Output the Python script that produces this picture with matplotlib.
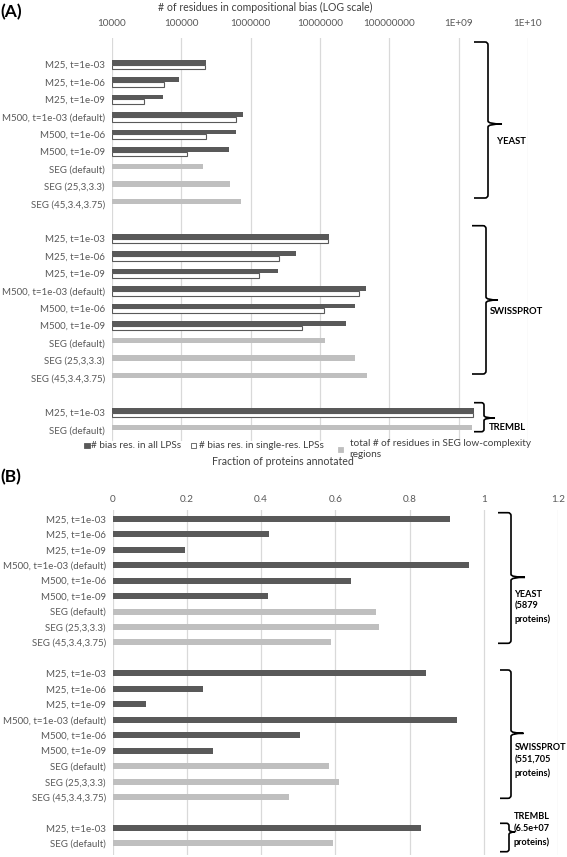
import matplotlib
matplotlib.use("Agg")
import matplotlib.pyplot as plt
import numpy as np
from matplotlib.path import Path
from matplotlib.patches import PathPatch, Rectangle

plt.rcParams['font.family'] = ['Lato', 'DejaVu Sans']

# ---------------- data ----------------
m_labels = ["M25, t=1e-03", "M25, t=1e-06", "M25, t=1e-09",
            "M500, t=1e-03 (default)", "M500, t=1e-06", "M500, t=1e-09"]
seg_labels = ["SEG (default)", "SEG (25,3,3.3)", "SEG (45,3.4,3.75)"]
trembl_labels = ["M25, t=1e-03", "SEG (default)"]

# Panel A: number of residues in compositional bias
yeast_lps_all = [227e3, 93.6e3, 54.5e3, 785e3, 609e3, 483e3]
yeast_lps_single = [222e3, 56.9e3, 29.3e3, 615e3, 230e3, 120e3]
yeast_seg_total = [204e3, 505e3, 720e3]
swiss_lps_all = [13.4e6, 4.48e6, 2.46e6, 46.8e6, 32.4e6, 24.0e6]
swiss_lps_single = [13.2e6, 2.6e6, 1.32e6, 37.1e6, 11.6e6, 5.57e6]
swiss_seg_total = [12.0e6, 31.8e6, 47.3e6]
trembl_lps_all = [1.64e9]
trembl_lps_single = [1.62e9]
trembl_seg_total = [1.55e9]

# Panel B: fraction of proteins annotated
yeast_frac = [0.908, 0.421, 0.195, 0.960, 0.643, 0.418, 0.710, 0.718, 0.589]
swiss_frac = [0.844, 0.243, 0.091, 0.929, 0.504, 0.269, 0.582, 0.611, 0.476]
trembl_frac = [0.831, 0.593]

a_ticks = [1e4, 1e5, 1e6, 1e7, 1e8, 1e9, 1e10]
a_ticklabels = ["10000", "100000", "1000000", "10000000", "100000000", "1E+09", "1E+10"]
b_ticks = [0, 0.2, 0.4, 0.6, 0.8, 1.0, 1.2]
b_ticklabels = ["0", "0.2", "0.4", "0.6", "0.8", "1", "1.2"]

legend_labels = ["# bias res. in all LPSs", "# bias res. in single-res. LPSs",
                 "total # of residues in SEG low-complexity\nregions"]

# ---------------- style ----------------
DARK = "#595959"
LIGHT = "#bfbfbf"
GRID = "#d9d9d9"
TXT = "#595959"
W, H = 567, 857

fig = plt.figure(figsize=(W / 100, H / 100), dpi=100)


def rect(x0, x1, ytop, ybot):
    return [x0 / W, 1 - ybot / H, (x1 - x0) / W, (ybot - ytop) / H]


def fx(x):
    return x / W


def fy(y):
    return 1 - y / H


# row positions
yeast_rows = np.arange(9)
swiss_rows = np.arange(10, 19)
trembl_rows = np.arange(20, 22)
all_rows = np.concatenate([yeast_rows, swiss_rows, trembl_rows])
all_labels = m_labels + seg_labels + m_labels + seg_labels + trembl_labels


def style_axis(ax):
    for s in ax.spines.values():
        s.set_visible(False)
    ax.xaxis.tick_top()
    ax.tick_params(axis='both', length=0, colors=TXT)
    ax.grid(axis='x', color=GRID, linewidth=0.9)
    ax.set_axisbelow(True)
    ax.set_yticks(all_rows)
    ax.set_yticklabels(all_labels, fontsize=7.0, color=TXT)
    ax.tick_params(axis='y', pad=5)


# ---------------- Panel A ----------------
axA = fig.add_axes(rect(112, 528, 38, 441))
axA.set_xscale('log')
h = 0.27
base = 1e4
for rows, allv, single, seg in [(yeast_rows, yeast_lps_all, yeast_lps_single, yeast_seg_total),
                                (swiss_rows, swiss_lps_all, swiss_lps_single, swiss_seg_total)]:
    mrows = rows[:6]
    srows = rows[6:]
    axA.barh(mrows - h / 2, np.array(allv) - base, left=base, height=h, color=DARK)
    axA.barh(mrows + h / 2, np.array(single) - base, left=base, height=h,
             facecolor="white", edgecolor=DARK, linewidth=0.8)
    axA.barh(srows - h / 2, np.array(seg) - base, left=base, height=0.3, color=LIGHT)
axA.barh(trembl_rows[:1] - h / 2, np.array(trembl_lps_all) - base, left=base, height=h, color=DARK)
axA.barh(trembl_rows[:1] + h / 2, np.array(trembl_lps_single) - base, left=base, height=h,
         facecolor="white", edgecolor=DARK, linewidth=0.8)
axA.barh(trembl_rows[1:] - h / 2, np.array(trembl_seg_total) - base, left=base, height=0.3, color=LIGHT)
axA.set_xlim(1e4, 1e10)
axA.set_xticks(a_ticks)
axA.set_xticklabels(a_ticklabels, fontsize=7.2)
axA.minorticks_off()
axA.set_ylim(21.63, -1.53)
style_axis(axA)
axA.tick_params(axis='x', pad=7)

fig.text(fx(265), fy(7.5), "# of residues in compositional bias (LOG scale)",
         ha='center', va='center', fontsize=7.6, color="#404040")
fig.text(fx(0), fy(12), "(A)", ha='left', va='center', fontsize=12.5, fontweight='bold')

# legend
fig.patches.append(Rectangle((fx(84), fy(448)), 5.5 / W, 5.5 / H, transform=fig.transFigure,
                             facecolor=DARK, edgecolor=DARK, lw=0.6))
fig.patches.append(Rectangle((fx(191), fy(448)), 5.5 / W, 5.5 / H, transform=fig.transFigure,
                             facecolor="white", edgecolor=DARK, lw=0.6))
fig.patches.append(Rectangle((fx(337.5), fy(452)), 5.5 / W, 5.5 / H, transform=fig.transFigure,
                             facecolor=LIGHT, edgecolor=LIGHT, lw=0.6))
fig.text(fx(91), fy(445), legend_labels[0], ha='left', va='center', fontsize=7.2, color="#404040")
fig.text(fx(199), fy(445), legend_labels[1], ha='left', va='center', fontsize=7.2, color="#404040")
fig.text(fx(349.5), fy(449), legend_labels[2], ha='left', va='center', fontsize=7.2,
         color="#404040", linespacing=1.35)

# ---------------- Panel B ----------------
axB = fig.add_axes(rect(112.7, 558, 510, 855))
b_colors = [DARK] * 6 + [LIGHT] * 3
axB.barh(yeast_rows, yeast_frac, height=0.39, color=b_colors)
axB.barh(swiss_rows, swiss_frac, height=0.39, color=b_colors)
axB.barh(trembl_rows, trembl_frac, height=0.39, color=[DARK, LIGHT])
axB.set_xlim(0, 1.2)
axB.set_xticks(b_ticks)
axB.set_xticklabels(b_ticklabels, fontsize=7.2)
axB.set_ylim(21.75, -0.57)
style_axis(axB)
axB.tick_params(axis='x', pad=4)

fig.text(fx(283), fy(462), "Fraction of proteins annotated",
         ha='center', va='center', fontsize=7.6, color="#404040")
fig.text(fx(0), fy(477), "(B)", ha='left', va='center', fontsize=12.5, fontweight='bold')


# ---------------- braces ----------------
def brace(x_left, x_stem, x_tip, y_top, y_tip, y_bot, r=3.0):
    P = lambda x, y: (fx(x), fy(y))
    verts = [P(x_left, y_top), P(x_stem - r, y_top), P(x_stem, y_top), P(x_stem, y_top + r),
             P(x_stem, y_tip - r), P(x_stem, y_tip), P(x_tip, y_tip),
             P(x_stem, y_tip), P(x_stem, y_tip + r),
             P(x_stem, y_bot - r), P(x_stem, y_bot), P(x_stem - r, y_bot), P(x_left, y_bot)]
    codes = [Path.MOVETO, Path.LINETO, Path.CURVE3, Path.CURVE3,
             Path.LINETO, Path.CURVE3, Path.CURVE3,
             Path.CURVE3, Path.CURVE3,
             Path.LINETO, Path.CURVE3, Path.CURVE3, Path.LINETO]
    fig.patches.append(PathPatch(Path(verts, codes), transform=fig.transFigure,
                                 facecolor='none', edgecolor='black', lw=1.2))


brace(474, 488, 502, 42, 124, 198)
brace(472, 486, 498, 225.7, 300, 374)
brace(474, 484, 495, 402.7, 418, 431.7, r=2.5)
fig.text(fx(497), fy(142), "YEAST", ha='left', va='center', fontsize=6.8, fontweight='bold')
fig.text(fx(490), fy(311), "SWISSPROT", ha='left', va='center', fontsize=6.8, fontweight='bold')
fig.text(fx(489), fy(427), "TREMBL", ha='left', va='center', fontsize=6.8, fontweight='bold')

brace(498, 511, 525, 512.7, 577.3, 643.3)
brace(500, 511, 523.5, 670, 733.3, 798.3)
brace(500, 509, 515, 823.3, 832, 851.7, r=2.5)
fig.text(fx(514.5), fy(606.7), "YEAST\n(5879\nproteins)", ha='left', va='center',
         fontsize=6.6, fontweight='bold', linespacing=1.45)
fig.text(fx(514.5), fy(760.5), "SWISSPROT\n(551,705\nproteins)", ha='left', va='center',
         fontsize=6.6, fontweight='bold', linespacing=1.45)
fig.text(fx(513.5), fy(829.5), "TREMBL\n(6.5e+07\nproteins)", ha='left', va='center',
         fontsize=6.6, fontweight='bold', linespacing=1.45)

fig.savefig("out.png", dpi=100)
